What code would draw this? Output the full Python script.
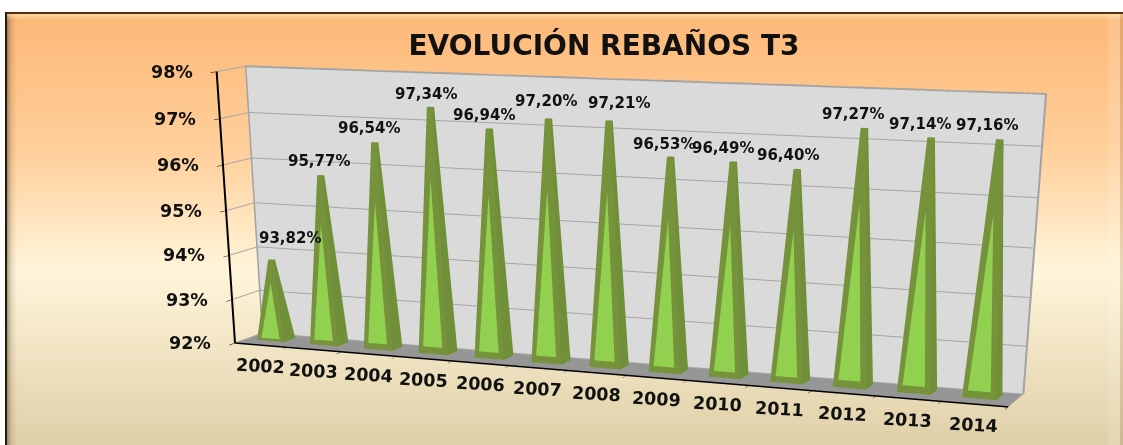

import numpy as np, plotly.graph_objects as go

years=[str(y) for y in range(2002,2015)]
vals=[93.82,95.77,96.54,97.34,96.94,97.20,97.21,96.53,96.49,96.40,97.27,97.14,97.16]
pct_ticks=[92,93,94,95,96,97,98]
label_text=["93,82%","95,77%","96,54%","97,34%","96,94%","97,20%","97,21%","96,53%","96,49%","96,40%","97,27%","97,14%","97,16%"]
title_text="EVOLUCIÓN REBAÑOS T3"

# label offsets (pixels) from each pyramid's tip
label_dx=[18,-2,-6,-4,-5,-2,10,-7,-10,-9,-11,-11,-13]
label_dy=[22,14,14,13,14,18,18,13,14,14,14,14,14]

W,H=1123,445
HD=2000   # the 3D scene's viewport is taller than the window to obtain a long lens
eye=dict(x=0.3560,y=-0.8568,z=0.1406)
center=dict(x=-0.5486,y=1.1930,z=-0.9684)
up=dict(x=-20.9814,y=48.1296,z=1)
aspect=dict(x=0.3139,y=0.0220,z=0.1016)

LIGHT='#92D050';DARK='#76933C';SIDE='#6F8F38';INK='#111111'
FONT='DejaVu Sans'

fig=go.Figure()
def py(y): return 1-y/HD
def band(x0,x1,y0,y1,color):
    fig.add_shape(type='rect',xref='paper',yref='paper',x0=x0/W,x1=x1/W,y0=py(y1),y1=py(y0),fillcolor=color,line_width=0,layer='below')

stops=[(13,(253,184,120)),(150,(255,207,155)),(270,(255,245,218)),(340,(243,230,198)),(445,(223,207,168))]
for y in range(13,446,3):
    col=[np.interp(y,[s[0] for s in stops],[s[1][k] for s in stops]) for k in range(3)]
    band(6,W,y,y+3,f'rgb({col[0]:.0f},{col[1]:.0f},{col[2]:.0f})')
# bevelled frame
for i,a in enumerate([.45,.34,.26,.19,.14,.10,.07,.05,.03,.02]):
    band(7+i,8+i,14,H,f'rgba(70,50,25,{a})')
for i,a in enumerate([.55,.45,.35,.25,.15,.08]):
    band(7,W,14+i,15+i,f'rgba(255,240,190,{a})')
band(1108,1120,14,H,'rgba(255,255,255,.13)')
band(1120,W,14,H,'rgba(130,90,40,.18)')
band(5,W,12,14,'#5A2E0C')
band(5,7,12,H,'#2A1A0C')

# pyramids
w=.26;d=.2;yc=.6;frac=.18;xo=.47
X=[];Y=[];Z=[];I=[];J_=[];K=[];FC=[]
for n,v in enumerate(vals):
    xc=n+xo
    def P(u,h):
        s=1-(1-frac)*h
        return (xc+(u-.5)*2*w*s, yc-d*s, 92+h*(v-92))
    s=frac
    pts=[P(0,0),P(1,0),P(1,1),P(0,1),(xc+w,yc+d,92),(xc+w*s,yc+d*s,v),(xc-w*s,yc+d*s,v),
         P(.15,.03),P(.83,.03),P(.5,.72)]
    b=len(X)
    for q in pts:
        X.append(q[0]);Y.append(q[1]);Z.append(q[2])
    tris=[((1,4,5),SIDE),((1,5,2),SIDE),((3,2,5),DARK),((3,5,6),DARK),
          ((7,8,9),LIGHT),((0,1,7),DARK),((1,8,7),DARK),((1,2,8),DARK),((8,2,9),DARK),
          ((2,3,9),DARK),((3,0,9),DARK),((0,7,9),DARK)]
    for t,c in tris:
        I.append(b+t[0]);J_.append(b+t[1]);K.append(b+t[2]);FC.append(c)
fig.add_trace(go.Mesh3d(x=X,y=Y,z=Z,i=I,j=J_,k=K,facecolor=FC,flatshading=True,hoverinfo='skip',
   lighting=dict(ambient=1,diffuse=0,specular=0,fresnel=0,roughness=1)))
# wall edge
fig.add_trace(go.Scatter3d(x=[0,0,13,13],y=[1,1,1,1],z=[92,98,98,92],mode='lines',hoverinfo='skip',
   line=dict(color='#A3A3A3',width=4)))

ax=dict(showticklabels=False,title='',showspikes=False,zeroline=False)
tf=dict(family=FONT,size=17.5,color=INK,weight=700)
lf=dict(family=FONT,size=15,color=INK,weight=700)
ann=[]
for k in pct_ticks:
    ann.append(dict(x=0,y=0,z=k,text=f"{k}%",showarrow=False,xanchor='right',yanchor='middle',xshift=-22,font=tf))
for n,yr in enumerate(years):
    ann.append(dict(x=n+.5,y=0,z=92,text=yr,showarrow=False,xanchor='center',yanchor='middle',xshift=-1,yshift=-21,textangle=3,font=tf))
for n,(v,t) in enumerate(zip(vals,label_text)):
    ann.append(dict(x=n+xo,y=yc,z=v,text=t,showarrow=False,xanchor='center',yanchor='middle',xshift=label_dx[n],yshift=label_dy[n],font=lf))

fig.update_layout(width=W,height=HD,margin=dict(l=0,r=0,t=0,b=0),paper_bgcolor='white',showlegend=False,
 title=dict(text=title_text,font=dict(family=FONT,size=28,color=INK,weight=700),x=604/W,y=py(45),xanchor='center',yanchor='middle'),
 scene=dict(domain=dict(x=[0,1],y=[0,1]),aspectmode='manual',aspectratio=aspect,
  camera=dict(eye=eye,center=center,up=up),
  annotations=ann,
  xaxis=dict(ax,range=[0,13],showgrid=False,tickvals=list(range(14)),ticks='outside',ticklen=4,tickcolor='black',showline=True,linecolor='black',linewidth=3,showbackground=False),
  yaxis=dict(ax,range=[0,1],showgrid=False,showbackground=True,backgroundcolor='#DADADA',showline=False),
  zaxis=dict(ax,range=[92,98],tickvals=pct_ticks,ticks='outside',ticklen=4,tickcolor='black',showline=True,linecolor='black',linewidth=4,showbackground=True,backgroundcolor='#969696',gridcolor='#A6A6A6',gridwidth=2)))
fig.write_html("out.html",config={'displayModeBar':False},post_script="document.body.style.margin='0';document.documentElement.style.overflow='hidden';document.body.style.overflow='hidden';")
